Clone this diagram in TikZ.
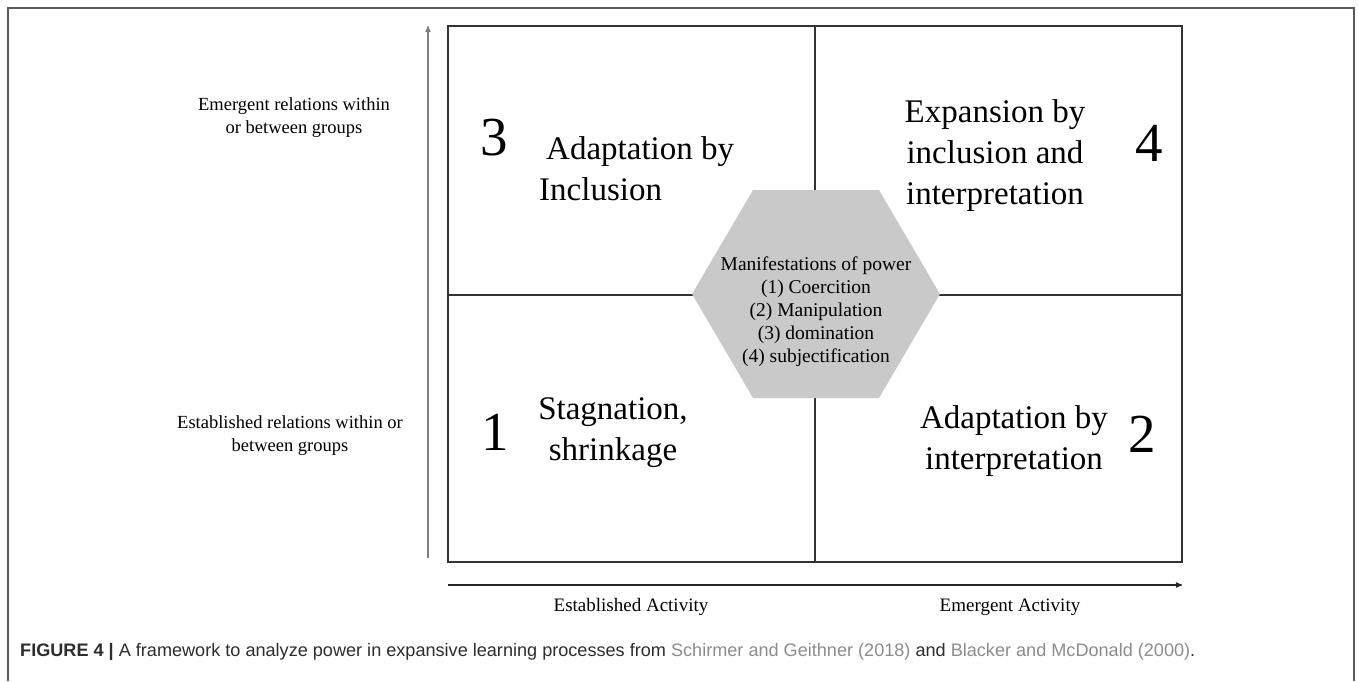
\documentclass[tikz,border=0pt]{standalone}
\usepackage{fontspec}
\setmainfont{Liberation Serif}
\newfontfamily\capfont{Liberation Sans}
\usetikzlibrary{arrows}
\usetikzlibrary{positioning}
\definecolor{hexgray}{RGB}{201,201,201}
\definecolor{framegray}{RGB}{90,90,90}
\definecolor{capgray}{RGB}{45,45,45}
\definecolor{linkgray}{RGB}{140,140,140}
\tikzset{
 quadtext/.style={font=\fontsize{33}{41}\selectfont, align=center, inner sep=0},
 quadnum/.style={font=\fontsize{55}{55}\selectfont, inner sep=0},
 sidetext/.style={font=\fontsize{18.5}{23}\selectfont, align=center, inner sep=0},
}

\begin{document}
\begin{tikzpicture} [x=1pt, y=-1pt]
\useasboundingbox (0,0) rectangle (1358,681);
\draw[framegray, line width=1.5] (8,681) -- (8,8) -- (1354,8) -- (1354,681);
% quadrants
\draw[black!80, line width=1.3] (448,26) rectangle (1182,562);
\draw[black!80, line width=1.3] (815,26) -- (815,562);
\draw[black!80, line width=1.3] (448,295) -- (1182,295);
% axes
\coordinate (ybot) at (428,558);
\coordinate (ytop) at (428,26);
\coordinate (xlft) at (448,585);
\coordinate (xrgt) at (1182,585);
\draw[black!50, line width=1.2, ->, >=stealth'] (ybot) -- (ytop);
\draw[black!85, line width=1.2, ->, >=stealth'] (xlft) -- (xrgt);
% power hexagon
\fill[hexgray] (692,294) -- (753,190) -- (879,190) -- (940,294) -- (879,398) -- (753,398) -- cycle;
\node[font=\fontsize{19.5}{23}\selectfont, align=center, inner sep=0] (power) at (816,312)
 {Manifestations of power\\(1) Coercition\\(2) Manipulation\\(3) domination\\(4) subjectification};
% quadrant labels
\node[quadnum] (n3) at (494,138) {3};
\node[quadnum] (n4) at (1149,143) {4};
\node[quadnum] (n1) at (495,432) {1};
\node[quadnum] (n2) at (1142,434) {2};
\node[quadtext, align=left, anchor=west] (q3) at (539,169) {\hspace{7pt}Adaptation by\\Inclusion};
\node[quadtext] (q4) at (995,156) {Expansion by\\inclusion and\\interpretation};
\node[quadtext] (q1) at (613,433) {Stagnation,\\shrinkage};
\node[quadtext] (q2) at (1014,441) {Adaptation by\\interpretation};
% axis labels
\node[sidetext] (emrel) at (294,118) {Emergent relations within\\or between groups};
\node[sidetext] (estrel) at (290,436) {Established relations within or\\between groups};
\node[sidetext, font=\fontsize{19}{23}\selectfont] (estact) at (631,607) {Established Activity};
\node[sidetext, font=\fontsize{19}{23}\selectfont] (ematc) at (1010,607) {Emergent Activity};
% caption
\node[anchor=base west, inner sep=0, text=capgray, font=\capfont\fontsize{18.1}{21}\selectfont] (caption) at (20,656)
 {\textbf{FIGURE 4 |} A framework to analyze power in expansive learning processes from \textcolor{linkgray}{Schirmer and Geithner (2018)} and \textcolor{linkgray}{Blacker and McDonald (2000)}.};
\end{tikzpicture}
\end{document}
